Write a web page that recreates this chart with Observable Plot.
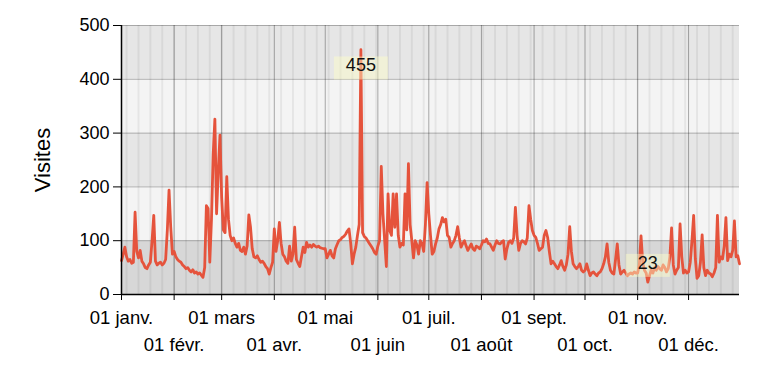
<!DOCTYPE html>
<html><head><meta charset="utf-8">
<script src="https://cdn.jsdelivr.net/npm/d3@7"></script>
<script src="https://cdn.jsdelivr.net/npm/@observablehq/plot@0.6"></script>
<style>
body{margin:0;background:#fff;font-family:"Liberation Sans",Arial,sans-serif}
</style>
</head><body><div id="chart"></div>
<script>
// Daily visits, 2015, one array per month
const jan = [63,75,88,70,62,65,58,60,153,80,68,82,62,57,50,48,55,60,100,147,62,55,58,60,55,58,65,120,194,125,75];
const feb = [80,70,65,62,60,55,52,48,50,45,42,46,40,42,38,40,36,32,50,165,160,60,140,260,326,150,230,296];
const mar = [180,120,115,219,140,110,100,105,95,88,95,82,80,88,75,90,148,125,85,70,68,72,65,60,62,58,52,48,38,50,60];
const apr = [122,80,100,134,95,75,70,62,58,90,62,75,125,65,58,52,70,88,78,97,88,92,88,93,90,88,90,87,86,85];
const may = [85,68,75,82,72,68,85,93,100,102,106,108,112,118,122,95,57,75,88,110,130,455,115,108,105,100,95,90,85,78,75];
const jun = [90,100,238,150,100,52,187,119,110,187,125,187,110,88,95,92,187,120,243,130,100,68,100,92,75,100,95,80,130,208];
const jul = [150,110,75,80,94,105,122,130,143,135,140,110,106,88,95,100,110,126,105,88,95,100,90,82,88,94,85,82,90,88,85];
const aug = [92,100,98,103,95,94,88,82,92,100,95,94,98,100,66,85,97,100,95,105,162,110,82,95,100,98,94,105,165,140,119];
const sep = [110,106,95,82,85,88,110,119,106,80,57,62,57,52,48,55,63,52,45,55,75,126,80,57,52,48,52,57,45,42];
const oct = [45,57,45,35,40,42,38,35,40,42,48,57,70,94,60,45,40,38,65,94,55,38,42,45,40,35,38,40,38,42,40];
const nov = [40,55,109,60,45,40,23,35,45,40,50,45,52,48,45,55,50,42,48,70,124,55,38,45,50,131,70,40,45,40];
const dec = [42,60,100,147,66,30,35,60,111,50,35,45,40,38,33,40,50,147,60,70,66,90,143,63,75,70,82,137,70,72,57];

const monthLabels = ["01 janv.","01 févr.","01 mars","01 avr.","01 mai","01 juin","01 juil.","01 août","01 sept.","01 oct.","01 nov.","01 déc."];
const yTicks = [0,100,200,300,400,500];
const bandLo = [0,100,200,300,400];
const bandHi = [100,200,300,400,500];
const bandFill = ["#d7d7d7","#f4f4f4","#e6e6e6","#f4f4f4","#e6e6e6"];
const yLabel = "Visites";

const values = [].concat(jan,feb,mar,apr,may,jun,jul,aug,sep,oct,nov,dec);
const start = new Date(Date.UTC(2015,0,1));
const data = values.map((v,i)=>({date:d3.utcDay.offset(start,i), value:v}));
const xDomain = [data[0].date, data[data.length-1].date];
const months = d3.utcMonth.range(start, d3.utcYear.offset(start,1));
const weeks = d3.utcSunday.range(start, xDomain[1]);
const bands = bandLo.map((y1,i)=>({y1, y2:bandHi[i], fill:bandFill[i]}));
const extremes = [d3.greatest(data,d=>d.value), d3.least(data,d=>d.value)];
const fmt = d=>monthLabels[d.getUTCMonth()];

const chart = Plot.plot({
  width:765, height:378,
  marginLeft:121, marginRight:26, marginTop:25, marginBottom:84,
  x:{type:"utc", domain:xDomain},
  y:{domain:[0,500]},
  color:{type:"identity"},
  style:{fontFamily:"'Liberation Sans',Arial,sans-serif", fontSize:"14px", color:"#000", background:"transparent", overflow:"visible"},
  marks:[
    Plot.rect(bands,{x1:()=>xDomain[0], x2:()=>xDomain[1], y1:"y1", y2:"y2", fill:"fill"}),
    Plot.ruleX(weeks,{y1:0, y2:500, stroke:"#000", strokeOpacity:0.06, strokeWidth:2}),
    Plot.ruleX(months,{y1:0, y2:500, stroke:"#000", strokeOpacity:0.32}),
    Plot.ruleY(yTicks.slice(1),{stroke:"#000", strokeOpacity:0.27}),
    Plot.line(data,{x:"date", y:"value", stroke:"#e5533c", strokeWidth:2.8}),
    Plot.text(extremes.slice(0,1),{x:"date", y:"value", text:d=>String(d.value), dy:16, fontSize:18, fill:"#111"}),
    Plot.text(extremes.slice(1),{x:"date", y:"value", text:d=>String(d.value), dy:-19, fontSize:18, fill:"#111"}),
    Plot.ruleX([xDomain[0]],{y1:0, y2:500, stroke:"#000", strokeWidth:1.5}),
    Plot.ruleY([0],{stroke:"#000", strokeWidth:1.5}),
    Plot.axisY(yTicks,{tickSize:8, tickPadding:4, fontSize:18, label:null, tickFormat:d=>String(d)}),
    Plot.axisX(months.filter((d,i)=>i%2===0),{tickSize:6, tickPadding:10, fontSize:18.5, label:null, tickFormat:fmt}),
    Plot.axisX(months.filter((d,i)=>i%2===1),{tickSize:6, tickPadding:37, fontSize:18.5, label:null, tickFormat:fmt}),
    Plot.text([yLabel],{frameAnchor:"left", textAnchor:"middle", rotate:-90, dx:-79, fontSize:22, fill:"#000"})
  ]
});
document.getElementById("chart").appendChild(chart);

// semi-transparent label boxes behind the annotation texts
const annotTexts = new Set(extremes.map(d=>String(d.value)));
chart.querySelectorAll("text").forEach(t=>{
  if (!annotTexts.has(t.textContent)) return;
  if (t.closest('[aria-label^="y-axis"],[aria-label^="x-axis"]')) return;
  const b = t.getBBox();
  const r = document.createElementNS("http://www.w3.org/2000/svg","rect");
  r.setAttribute("x", b.x-12); r.setAttribute("y", b.y+1);
  r.setAttribute("width", b.width+24); r.setAttribute("height", b.height+3);
  r.setAttribute("fill","#ffffc8"); r.setAttribute("fill-opacity","0.45");
  const tr = t.getAttribute("transform"); if (tr) r.setAttribute("transform", tr);
  t.parentNode.insertBefore(r, t);
});
</script>
</body></html>
